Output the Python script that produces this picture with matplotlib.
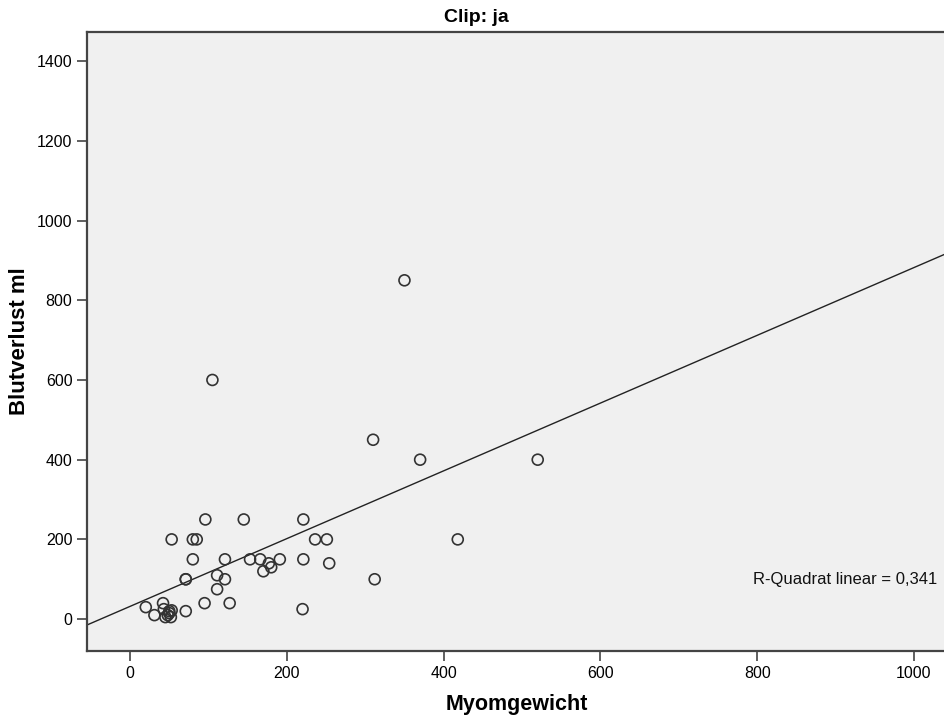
# -*- coding : utf-8 -*-

"""
Streudiagramm Myomgewicht vs. Blutverlust (Clip: ja)
"""

import numpy as np
import matplotlib.pyplot as plt

plt.rcParams["font.family"] = ["Liberation Sans", "DejaVu Sans"]

# Myomgewicht (x) und Blutverlust ml (y)
myomgewicht = [350, 105, 310, 370, 520, 418, 312, 254,
               53, 80, 85, 96, 145, 221, 236, 251,
               80, 121, 153, 166, 191, 221, 177, 180, 170,
               71, 71, 111, 121, 111, 95, 127, 220, 71,
               20, 31, 42, 43, 45, 48, 50, 50, 52, 53]
blutverlust = [850, 600, 450, 400, 400, 200, 100, 140,
               200, 200, 200, 250, 250, 250, 200, 200,
               150, 150, 150, 150, 150, 150, 140, 130, 120,
               100, 100, 110, 100, 75, 40, 40, 25, 20,
               30, 10, 40, 25, 5, 10, 15, 20, 5, 22]

# Regressionsgerade (aus dem Bild)
intercept = 32
slope = 0.85
r2_text = "R-Quadrat linear = 0,341"

xmin, xmax = -55, 1042
ymin, ymax = -80, 1473

fig = plt.figure(figsize=(9.45, 7.16), dpi=100)
ax = fig.add_axes([87 / 945, 1 - 651 / 716, 1 - 87 / 945 + 0.002, (651 - 32) / 716])
ax.set_facecolor("#f0f0f0")

xs = np.array([xmin, xmax])
ax.plot(xs, intercept + slope * xs, color="#222222", lw=1.0, zorder=2)
ax.scatter(myomgewicht, blutverlust, s=62, facecolors="none",
           edgecolors="#333333", linewidths=1.2, zorder=3)

ax.text(795, 100, r2_text, fontsize=12, ha="left", va="center", color="#111111")

ax.set_xlim(xmin, xmax)
ax.set_ylim(ymin, ymax)
ax.set_xticks([0, 200, 400, 600, 800, 1000])
ax.set_yticks([0, 200, 400, 600, 800, 1000, 1200, 1400])
ax.tick_params(direction="out", length=7.5, width=1.2, labelsize=11.5,
               color="#444444", pad=3)
for s in ["left", "bottom", "top"]:
    ax.spines[s].set_linewidth(1.6)
    ax.spines[s].set_color("#444444")
ax.spines["right"].set_visible(False)

ax.set_xlabel("Myomgewicht", fontsize=15.5, fontweight="bold", labelpad=10)
ax.set_ylabel("Blutverlust ml", fontsize=16, fontweight="bold", labelpad=5)
fig.text(476 / 945, 1 - 17 / 716, "Clip: ja", fontsize=14, fontweight="bold",
         ha="center", va="center")

plt.savefig("out.png", dpi=100)
